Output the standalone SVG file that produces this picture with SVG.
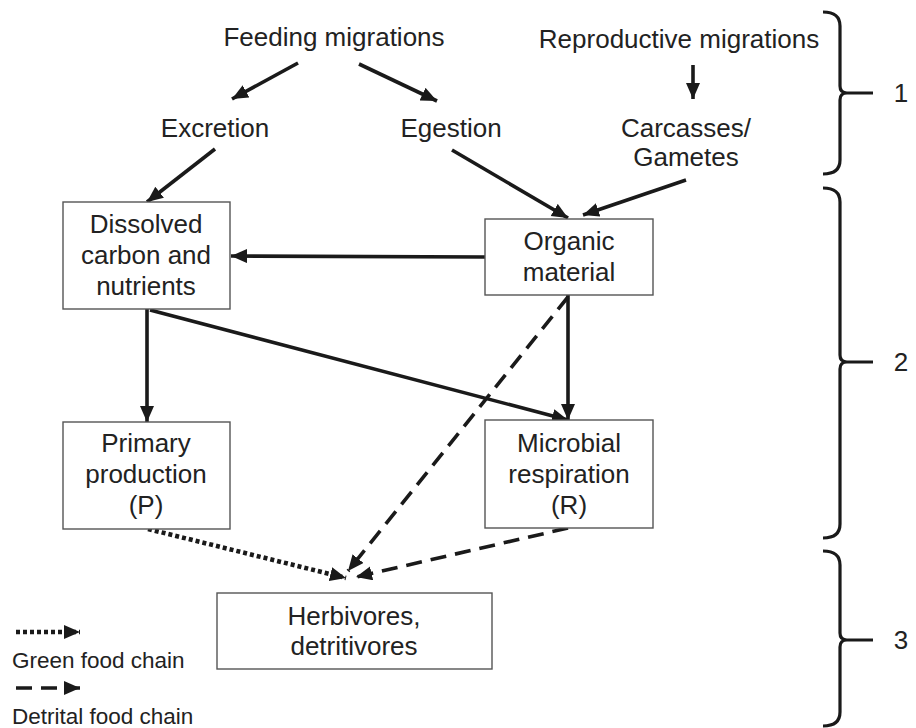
<svg xmlns="http://www.w3.org/2000/svg" width="916" height="728" viewBox="0 0 916 728">
<style>
text{font-family:"Liberation Sans",Arial,sans-serif;font-size:26px;fill:#222;text-anchor:middle}
.leg{font-size:22.5px;text-anchor:start}
.box{fill:#fff;stroke:#555;stroke-width:1.4}
.c{fill:none;stroke:#1a1a1a;stroke-width:3.6}
.dash{stroke-dasharray:16 9}
.dot{stroke-dasharray:4 3;stroke-width:4.6}
.br{fill:none;stroke:#1a1a1a;stroke-width:3.2}
</style>
<defs>
<marker id="ah" markerUnits="userSpaceOnUse" markerWidth="17" markerHeight="15" refX="16" refY="7" orient="auto">
<path d="M0,0 L16,7 L0,14 z" fill="#1a1a1a"/>
</marker>
</defs>
<rect width="916" height="728" fill="#fff"/>
<g id="connectors">
<line class="c" x1="298" y1="63" x2="232" y2="99" marker-end="url(#ah)"/>
<line class="c" x1="359" y1="64" x2="437" y2="101" marker-end="url(#ah)"/>
<line class="c" x1="693" y1="65" x2="693" y2="99" marker-end="url(#ah)"/>
<line class="c" x1="215" y1="149" x2="147" y2="202" marker-end="url(#ah)"/>
<line class="c" x1="452" y1="150" x2="568" y2="218" marker-end="url(#ah)"/>
<line class="c" x1="686" y1="180" x2="583" y2="215" marker-end="url(#ah)"/>
<line class="c" x1="485" y1="257" x2="231" y2="256" marker-end="url(#ah)"/>
<line class="c" x1="147" y1="309" x2="147" y2="422" marker-end="url(#ah)"/>
<line class="c" x1="150" y1="310" x2="568" y2="420" marker-end="url(#ah)"/>
<line class="c" x1="568" y1="295" x2="568" y2="420" marker-end="url(#ah)"/>
<line class="c dash" x1="568" y1="297" x2="348" y2="571" marker-end="url(#ah)"/>
<line class="c dash" x1="568" y1="528" x2="356" y2="577" marker-end="url(#ah)"/>
<line class="c dot" x1="148" y1="529" x2="346" y2="578" marker-end="url(#ah)"/>
</g>
<g id="feeding"><text x="334" y="46">Feeding migrations</text></g>
<g id="reproductive"><text x="679" y="48">Reproductive migrations</text></g>
<g id="excretion"><text x="215" y="137">Excretion</text></g>
<g id="egestion"><text x="451" y="137">Egestion</text></g>
<g id="carcasses"><text x="686" y="137">Carcasses/</text><text x="686" y="166">Gametes</text></g>
<g id="dissolved"><rect class="box" x="63" y="202" width="167" height="107"/><text x="146" y="233">Dissolved</text><text x="146" y="264">carbon and</text><text x="146" y="295">nutrients</text></g>
<g id="organic"><rect class="box" x="485" y="219" width="168" height="76"/><text x="569" y="250">Organic</text><text x="569" y="281">material</text></g>
<g id="primary"><rect class="box" x="63" y="422" width="167" height="107"/><text x="146" y="452">Primary</text><text x="146" y="483">production</text><text x="146" y="514">(P)</text></g>
<g id="microbial"><rect class="box" x="485" y="420" width="168" height="108"/><text x="569" y="452">Microbial</text><text x="569" y="483">respiration</text><text x="569" y="514">(R)</text></g>
<g id="herbivores"><rect class="box" x="217" y="593" width="275" height="76"/><text x="354" y="625">Herbivores,</text><text x="354" y="655">detritivores</text></g>
<g id="legend">
<line class="c dot" x1="16" y1="632" x2="80" y2="632" marker-end="url(#ah)"/>
<text class="leg" x="12" y="668">Green food chain</text>
<line class="c dash" x1="16" y1="688" x2="80" y2="688" marker-end="url(#ah)"/>
<text class="leg" x="12" y="724">Detrital food chain</text>
</g>
<g id="brackets">
<path class="br" d="M823,12 Q840,12 840,26 L840,86 Q840,93 847,93 Q840,93 840,100 L840,160 Q840,174 823,174 M847,93 L873,93"/>
<text x="901" y="102">1</text>
<path class="br" d="M823,188 Q840,188 840,202 L840,355 Q840,362 847,362 Q840,362 840,369 L840,524 Q840,538 823,538 M847,362 L873,362"/>
<text x="901" y="371">2</text>
<path class="br" d="M823,551 Q840,551 840,565 L840,633 Q840,640 847,640 Q840,640 840,647 L840,712 Q840,726 823,726 M847,640 L873,640"/>
<text x="901" y="649">3</text>
</g>
</svg>
